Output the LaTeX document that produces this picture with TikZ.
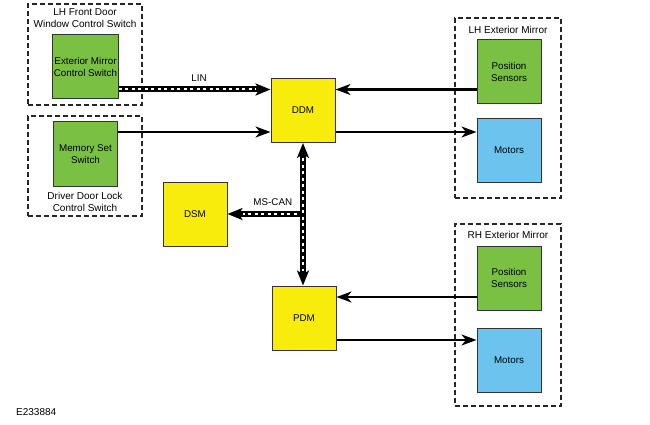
\documentclass[tikz,border=0pt]{standalone}
\usepackage{fontspec}
\setmainfont{Liberation Sans}
\usetikzlibrary{arrows.meta,positioning}
\definecolor{swgreen}{HTML}{7AC143}
\definecolor{ecuyellow}{HTML}{F8EC0C}
\definecolor{motorblue}{HTML}{6CC4EE}
\tikzset{
  module/.style={draw=black!80, line width=1pt, minimum width=64pt, minimum height=64pt,
    inner sep=1pt, align=center, font=\fontsize{9.8}{11.8}\selectfont},
  frame/.style={draw=black!85, line width=1.2pt, dash pattern=on 5pt off 3pt, inner sep=0pt},
  framelabel/.style={inner sep=1pt, align=center, font=\fontsize{10}{12}\selectfont},
  wire/.style={line width=2.2pt, -{Stealth[length=15pt,width=11pt,inset=4.5pt]}},
  bus/.style={line width=6pt, -{Stealth[length=15pt,width=12pt,inset=4pt]},
    postaction={draw, white, line width=2pt, dash pattern=on 3pt off 3.5pt, -, shorten >=15pt}},
  busboth/.style={line width=6pt, {Stealth[length=15pt,width=12pt,inset=4pt]}-{Stealth[length=15pt,width=12pt,inset=4pt]},
    postaction={draw, white, line width=2pt, dash pattern=on 3pt off 3.5pt, -, shorten >=15pt, shorten <=15pt}},
  buslabel/.style={inner sep=1pt, font=\fontsize{9.8}{11}\selectfont}
}
\begin{document}
\begin{tikzpicture}[x=1pt,y=-1pt]
\useasboundingbox (0,0) rectangle (650,425);

\node[frame, minimum width=114pt, minimum height=101pt] (lhfd) at (85,54.5) {};
\node[framelabel, below=4pt of lhfd.north] {LH Front Door\\Window Control Switch};
\node[frame, minimum width=114pt, minimum height=100pt] (ddl) at (85,166) {};
\node[framelabel, above=4pt of ddl.south] {Driver Door Lock\\Control Switch};
\node[frame, minimum width=106pt, minimum height=180pt] (lhm) at (508,108) {};
\node[framelabel, below=8pt of lhm.north] {LH Exterior Mirror};
\node[frame, minimum width=106pt, minimum height=182pt] (rhm) at (508,315) {};
\node[framelabel, below=7pt of rhm.north] {RH Exterior Mirror};

\node[module, fill=swgreen] (ecs) at (85.5,67) {Exterior Mirror\\Control Switch};
\node[module, fill=swgreen] (mss) at (85.5,154) {Memory Set\\Switch};
\node[module, fill=ecuyellow] (ddm) at (303,110.5) {DDM};
\node[module, fill=ecuyellow] (dsm) at (195,214) {DSM};
\node[module, fill=ecuyellow] (pdm) at (304,318) {PDM};
\node[module, fill=swgreen] (lhps) at (509,72) {Position\\Sensors};
\node[module, fill=motorblue] (lhmot) at (509,150.5) {Motors};
\node[module, fill=swgreen] (rhps) at (509,278) {Position\\Sensors};
\node[module, fill=motorblue] (rhmot) at (509,360) {Motors};

\coordinate (ddmA) at ([yshift=21pt]ddm.west);
\coordinate (ddmB) at ([yshift=-21.5pt]ddm.west);
\coordinate (ddmC) at ([yshift=21pt]ddm.east);
\coordinate (ddmD) at ([yshift=-21.5pt]ddm.east);
\coordinate (pdmA) at ([yshift=21pt]pdm.east);
\coordinate (pdmB) at ([yshift=-22pt]pdm.east);
\coordinate (canT) at (ddm.south |- dsm.east);

\draw[bus] (ecs.east |- ddmA) -- node[buslabel, pos=0.53, above=4pt] {LIN} (ddmA);
\draw[wire] (mss.east |- ddmB) -- (ddmB);
\draw[wire] (lhps.west |- ddmC) -- (ddmC);
\draw[wire] (ddmD) -- (lhmot.west |- ddmD);
\draw[bus] (canT) -- node[buslabel, pos=0.4, above=4pt] {MS-CAN} (dsm.east);
\draw[busboth] (ddm.south) -- (ddm.south |- pdm.north);
\draw[wire] (rhps.west |- pdmA) -- (pdmA);
\draw[wire] (pdmB) -- (rhmot.west |- pdmB);

\node[anchor=west, inner sep=0pt, font=\fontsize{10}{12}\selectfont] (code) at (16,412) {E233884};
\end{tikzpicture}
\end{document}
